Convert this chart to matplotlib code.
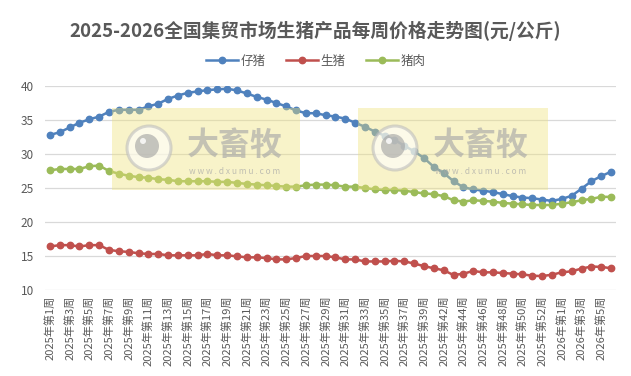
import matplotlib
matplotlib.use("Agg")
import matplotlib.pyplot as plt
from matplotlib.patches import Rectangle, Circle

plt.rcParams["font.family"] = ["Noto Sans CJK SC", "DejaVu Sans"]

# week numbers on the category axis (2025 week 40 is missing in the source)
weeks_2025 = list(range(1, 40)) + list(range(41, 54))
weeks_2026 = [1, 2, 3, 4, 5, 6]
labels = [f"2025年第{w}周" for w in weeks_2025] + [f"2026年第{w}周" for w in weeks_2026]

piglet = [32.8, 33.2, 33.9, 34.6, 35.1, 35.5, 36.2, 36.5, 36.5, 36.5,
          37.0, 37.4, 38.1, 38.6, 39.0, 39.2, 39.4, 39.5, 39.6, 39.35,
          38.9, 38.4, 38.0, 37.5, 37.0, 36.4, 36.0, 36.0, 35.7, 35.5,
          35.2, 34.6, 34.0, 33.3, 32.7, 32.1, 31.2, 30.4, 29.4, 28.1,
          27.2, 26.0, 25.1, 24.8, 24.6, 24.4, 24.1, 23.8, 23.6, 23.5,
          23.3, 23.1, 23.4, 23.85, 24.9, 26.0, 26.75, 27.4]
hog = [16.4, 16.6, 16.6, 16.4, 16.6, 16.6, 15.9, 15.7, 15.6, 15.4,
       15.3, 15.3, 15.1, 15.1, 15.1, 15.1, 15.3, 15.1, 15.1, 14.95,
       14.8, 14.8, 14.7, 14.5, 14.5, 14.7, 15.0, 15.0, 15.0, 14.8,
       14.5, 14.5, 14.2, 14.2, 14.2, 14.3, 14.2, 13.9, 13.5, 13.2,
       12.9, 12.2, 12.4, 12.8, 12.6, 12.6, 12.5, 12.4, 12.3, 12.1,
       12.05, 12.25, 12.6, 12.75, 13.15, 13.45, 13.4, 13.2]
pork = [27.6, 27.8, 27.8, 27.8, 28.2, 28.3, 27.5, 27.1, 26.8, 26.6,
        26.5, 26.3, 26.2, 26.0, 26.0, 26.0, 26.0, 25.9, 25.9, 25.75,
        25.6, 25.5, 25.4, 25.3, 25.2, 25.2, 25.4, 25.5, 25.5, 25.4,
        25.2, 25.2, 25.0, 24.8, 24.7, 24.7, 24.6, 24.4, 24.2, 24.1,
        23.8, 23.2, 23.0, 23.2, 23.1, 23.0, 22.8, 22.7, 22.6, 22.5,
        22.5, 22.5, 22.7, 22.9, 23.2, 23.4, 23.7, 23.7]

W, H = 631, 376
fig = plt.figure(figsize=(W / 100, H / 100), dpi=100)
ax = fig.add_axes([45 / W, 1 - 290 / H, 571 / W, 204 / H])

x = list(range(len(labels)))
ax.plot(x, piglet, color="#4F81BD", lw=1.8, marker="o", ms=4.6, label="仔猪")
ax.plot(x, hog, color="#C0504D", lw=1.8, marker="o", ms=4.6, label="生猪")
ax.plot(x, pork, color="#9BBB59", lw=1.8, marker="o", ms=4.6, label="猪肉")

ax.set_xlim(-0.5, len(labels) - 0.5)
ax.set_ylim(10, 40)
ax.set_yticks(range(10, 41, 5))
ax.set_xticks(x[::2])
ax.set_xticklabels(labels[::2], rotation=90, fontsize=8, color="#595959")
ax.tick_params(axis="y", labelsize=8.5, colors="#595959", length=0, pad=8)
ax.tick_params(axis="x", length=0, pad=4)
ax.grid(axis="y", color="#d9d9d9", lw=0.9)
ax.set_axisbelow(True)
for s in ax.spines.values():
    s.set_visible(False)

fig.text(0.5, 1 - 31 / H, "2025-2026全国集贸市场生猪产品每周价格走势图(元/公斤)",
         ha="center", va="center", fontsize=13.5, fontweight="bold", color="#595959")
fig.legend(loc="center", bbox_to_anchor=(0.5, 1 - 61 / H), ncol=3, frameon=False,
           fontsize=9, handlelength=2.6, columnspacing=1.6, handletextpad=0.2,
           labelcolor="#595959")


# watermark boxes (pixel coords, origin top-left)
def watermark(x0, x1, y0, y1):
    tf = fig.transFigure
    inch = fig.dpi_scale_trans
    fig.add_artist(Rectangle((x0 / W, 1 - y1 / H), (x1 - x0) / W, (y1 - y0) / H,
                             transform=tf, facecolor="#efe27a", alpha=0.4,
                             edgecolor="none", zorder=5))
    cx, cy = x0 + 37, 148
    fig.add_artist(Circle((cx / 100, (H - cy) / 100), 0.22, transform=inch,
                          facecolor="white", edgecolor="#bdbdbd", lw=2.2,
                          alpha=0.6, zorder=6))
    fig.add_artist(Circle(((cx - 2) / 100, (H - cy + 2) / 100), 0.12, transform=inch,
                          facecolor="#a0a0a0", edgecolor="none", alpha=0.6, zorder=7))
    fig.add_artist(Circle(((cx - 6) / 100, (H - cy + 7) / 100), 0.03, transform=inch,
                          facecolor="white", edgecolor="none", alpha=0.8, zorder=8))
    fig.text((x0 + 123) / W, 1 - 146 / H, "大畜牧", ha="center", va="center",
             fontsize=23, fontweight="bold", color="#a8a8a8", alpha=0.65, zorder=7)
    fig.text((x0 + 123) / W, 1 - 172 / H, "w w w . d x u m u . c o m", ha="center",
             va="center", fontsize=6, color="#a8a8a8", alpha=0.7, zorder=7)


watermark(112, 300, 108, 190)
watermark(358, 548, 108, 190)

fig.savefig("out.png", dpi=100)
